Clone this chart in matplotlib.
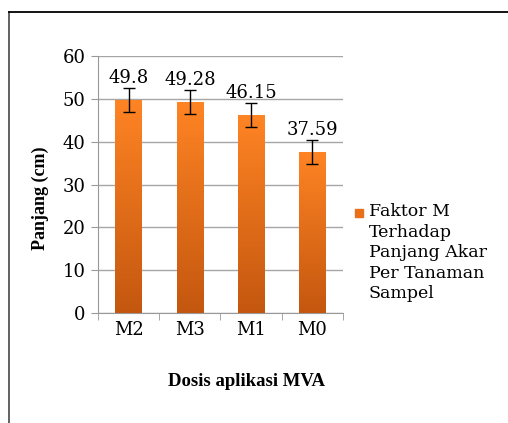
import matplotlib
matplotlib.use("Agg")
import matplotlib.pyplot as plt
import numpy as np
from matplotlib.colors import LinearSegmentedColormap
from matplotlib.lines import Line2D

categories = ["M2", "M3", "M1", "M0"]
values = [49.8, 49.28, 46.15, 37.59]
errors = [2.8, 2.8, 2.8, 2.8]
legend_label = "Faktor M\nTerhadap\nPanjang Akar\nPer Tanaman\nSampel"

W, H = 508, 423
fig = plt.figure(figsize=(W / 100, H / 100), dpi=100)
ax = fig.add_axes([98 / W, 1 - 313 / H, (343 - 98) / W, (313 - 56) / H])

x = np.arange(len(categories))
bars = ax.bar(x, values, width=0.43, color="#E8701A", zorder=2)

# vertical gradient on each bar
grad = LinearSegmentedColormap.from_list("g", ["#C4570F", "#FF8424"])
g = np.linspace(0, 1, 256).reshape(-1, 1)
for b in bars:
    x0, w, h = b.get_x(), b.get_width(), b.get_height()
    im = ax.imshow(g, cmap=grad, aspect="auto", origin="lower",
                   extent=[x0, x0 + w, 0, h], zorder=3)
    im.set_clip_path(b)

ax.errorbar(x, values, yerr=errors, fmt="none", ecolor="black",
            elinewidth=1, capsize=4, capthick=1, zorder=4)

for xi, v, e in zip(x, values, errors):
    ax.text(xi, v + e + 0.2, f"{v:g}", ha="center", va="bottom",
            fontsize=13, family="DejaVu Serif", zorder=5)

ax.set_xlim(-0.5, len(categories) - 0.5)
ax.set_ylim(0, 60)
ax.set_yticks(range(0, 61, 10))
ax.set_xticks(x)
ax.set_xticklabels(categories)
ax.set_xticks(np.arange(-0.5, len(categories)), minor=True)
ax.tick_params(axis="x", which="major", length=0, pad=6)
ax.tick_params(axis="x", which="minor", length=5, color="#999999")
ax.tick_params(axis="y", length=5, color="#999999", pad=4)
for lab in ax.get_xticklabels() + ax.get_yticklabels():
    lab.set_fontfamily("DejaVu Serif")
    lab.set_fontsize(13)

ax.grid(axis="y", color="#A6A6A6", linewidth=1, zorder=0)
ax.set_axisbelow(True)
for s in ["top", "right"]:
    ax.spines[s].set_visible(False)
ax.spines["left"].set_color("#999999")
ax.spines["bottom"].set_color("#999999")

fig.text(40 / W, 1 - 198 / H, "Panjang (cm)", rotation=90, ha="center",
         va="center", fontsize=13, fontweight="bold", family="Liberation Serif")
fig.text(247 / W, 1 - 381 / H, "Dosis aplikasi MVA", ha="center",
         va="center", fontsize=13.5, fontweight="bold", family="Liberation Serif")

# legend
fig.patches.append(plt.Rectangle((355 / W, 1 - 217 / H), 8 / W, 8 / H,
                                 transform=fig.transFigure, color="#E8701A"))
fig.text(369 / W, 1 - 203 / H, legend_label, ha="left", va="top",
         fontsize=12.5, family="DejaVu Serif", linespacing=1.27)

# outer frame
fig.lines.append(Line2D([9 / W, 9 / W], [0, 1 - 12 / H], transform=fig.transFigure,
                        color="#555555", linewidth=1.3))
fig.lines.append(Line2D([9 / W, 1], [1 - 12 / H, 1 - 12 / H], transform=fig.transFigure,
                        color="black", linewidth=1.3))

fig.savefig("out.png", dpi=100)
